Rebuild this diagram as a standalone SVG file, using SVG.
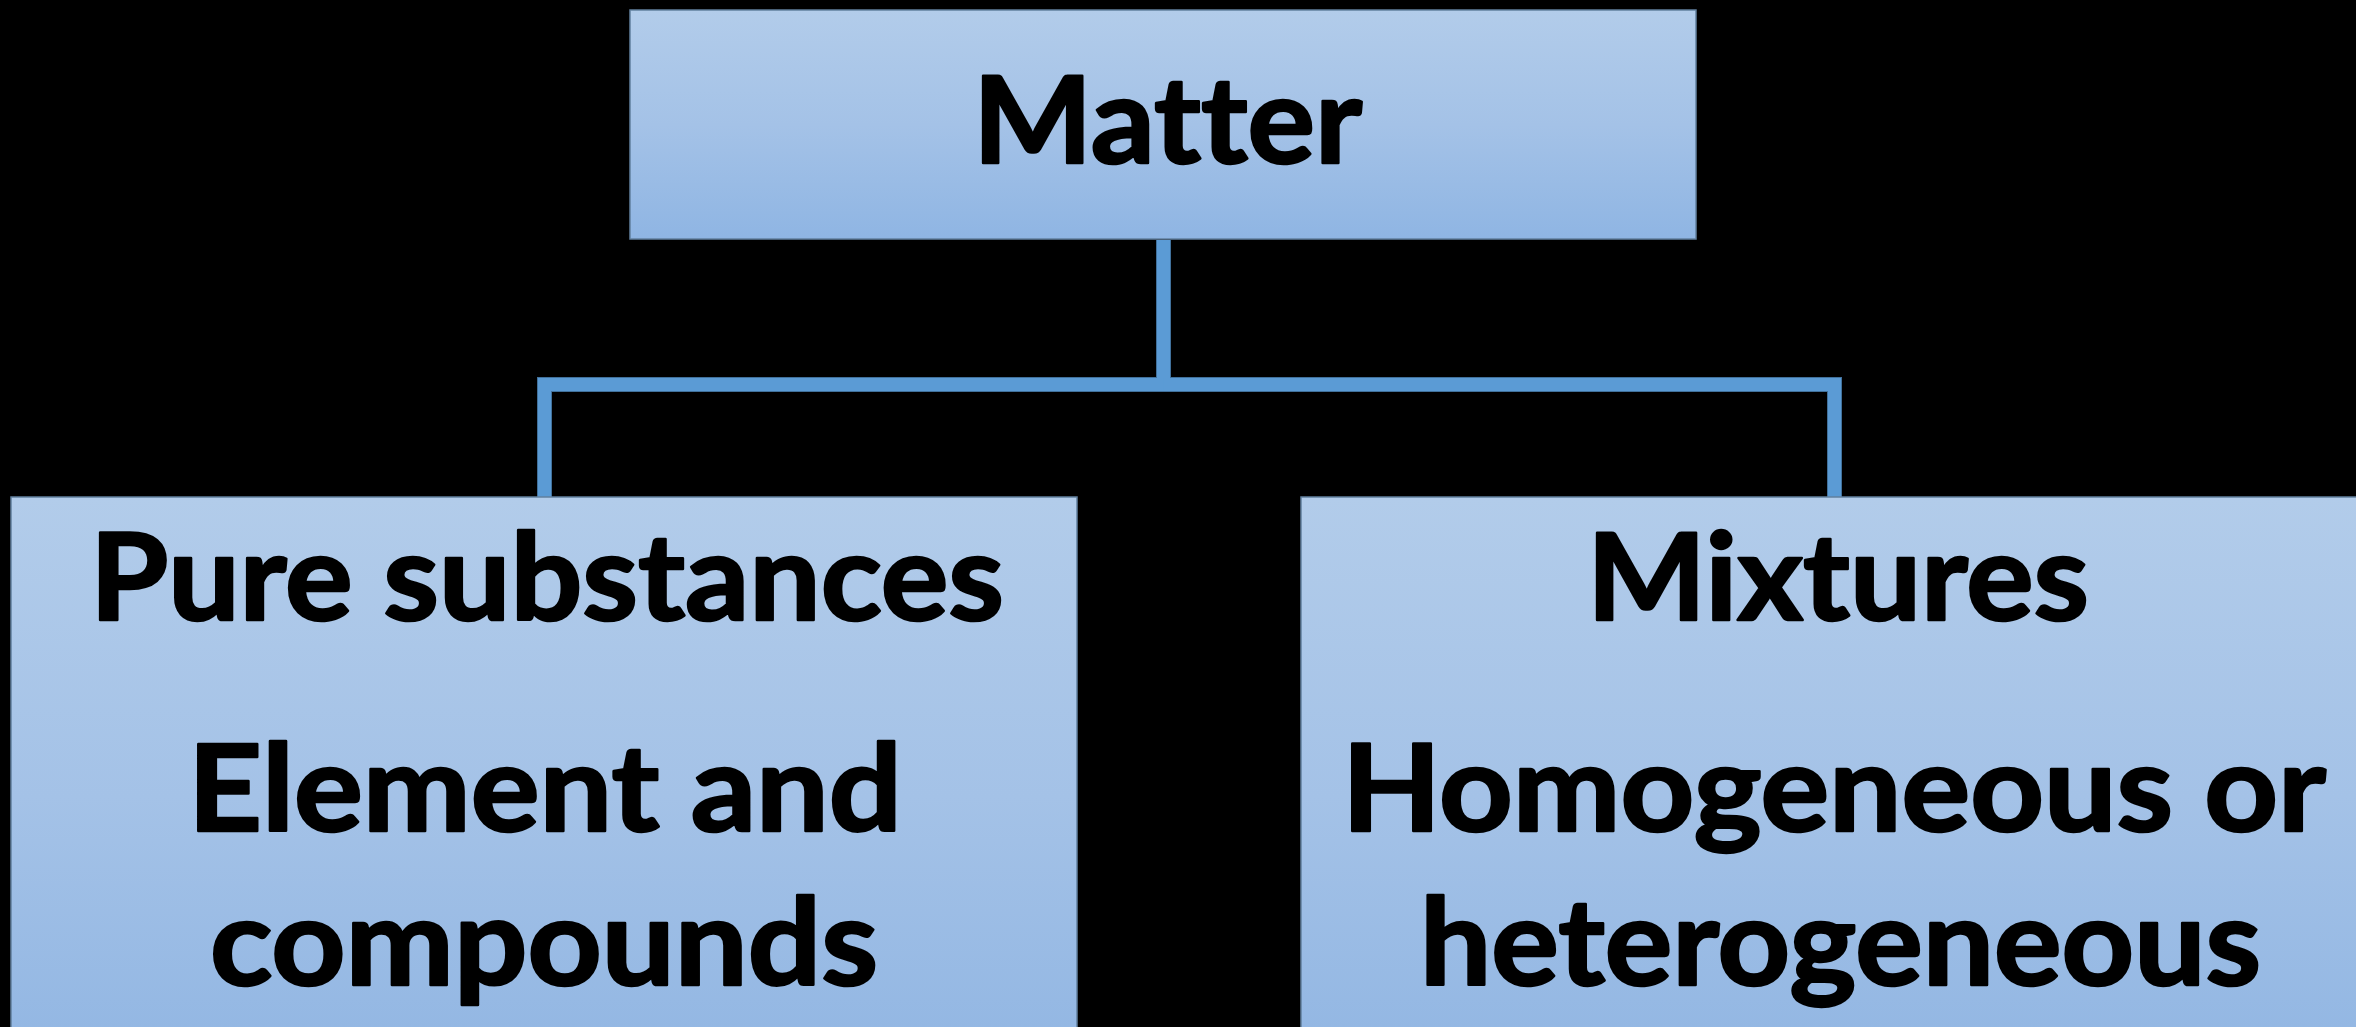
<svg xmlns="http://www.w3.org/2000/svg" width="2356" height="1027" viewBox="0 0 2356 1027">
  <defs>
    <linearGradient id="boxFill" x1="0" y1="0" x2="0" y2="1">
      <stop offset="0" stop-color="#B2CCEA"/>
      <stop offset="0.5" stop-color="#A4C2E7"/>
      <stop offset="1" stop-color="#8FB5E3"/>
    </linearGradient>
    <linearGradient id="boxFillTall" x1="0" y1="0" x2="0" y2="1">
      <stop offset="0" stop-color="#B2CCEA"/>
      <stop offset="0.55" stop-color="#A4C2E7"/>
      <stop offset="1" stop-color="#93B7E3"/>
    </linearGradient>
    <style>
      .box { stroke: #62809F; stroke-width: 1.5; }
      .label { font-family: "Lato", "Open Sans", "Liberation Sans", sans-serif; font-weight: 700; font-size: 120px; fill: #000000; stroke: #000000; stroke-width: 2.5; stroke-linejoin: round; font-variant-ligatures: none; font-feature-settings: "liga" 0, "clig" 0; }
      .link { fill: none; stroke: #5B9BD5; stroke-width: 13; stroke-linejoin: miter; stroke-linecap: butt; }
      .link-edge { fill: none; stroke: #41719C; stroke-width: 15; stroke-linejoin: miter; stroke-linecap: butt; }
    </style>
  </defs>

  <rect x="0" y="0" width="2356" height="1027" fill="#000000"/>

  <!-- connectors: Matter branches to the two categories -->
  <g id="connectors">
    <path class="link-edge" d="M1163.5 240 V384.5 H544.5 V497"/>
    <path class="link-edge" d="M1163.5 384.5 H1834.5 V497"/>
    <path class="link" d="M1163.5 240 V384.5 H544.5 V497"/>
    <path class="link" d="M1163.5 384.5 H1834.5 V497"/>
  </g>

  <g id="matter">
    <rect class="box" x="630" y="10" width="1066" height="229" fill="url(#boxFill)"/>
    <text class="label" x="973" y="163" textLength="389" lengthAdjust="spacingAndGlyphs">Matter</text>
  </g>

  <g id="pure-substances">
    <rect class="box" x="11" y="497" width="1066" height="545" fill="url(#boxFillTall)"/>
    <text class="label" x="90" y="620" textLength="914" lengthAdjust="spacingAndGlyphs">Pure substances</text>
    <text class="label" x="188" y="831" textLength="714" lengthAdjust="spacingAndGlyphs">Element and</text>
    <text class="label" x="210" y="985" textLength="668" lengthAdjust="spacingAndGlyphs">compounds</text>
  </g>

  <g id="mixtures">
    <rect class="box" x="1301" y="497" width="1072" height="545" fill="url(#boxFillTall)"/>
    <text class="label" x="1587" y="620" textLength="502" lengthAdjust="spacingAndGlyphs">Mixtures</text>
    <text class="label" x="1342" y="831" textLength="984" lengthAdjust="spacingAndGlyphs">Homogeneous or</text>
    <text class="label" x="1420" y="985" textLength="841" lengthAdjust="spacingAndGlyphs">heterogeneous</text>
  </g>
</svg>
